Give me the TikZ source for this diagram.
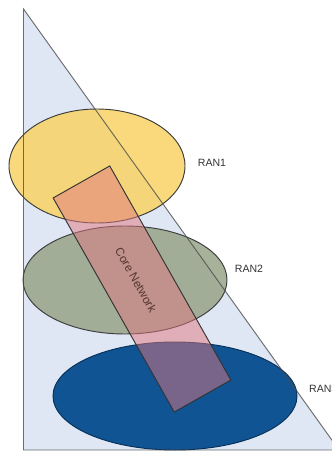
\documentclass[tikz,border=0pt]{standalone}
\usepackage{fontspec}
\setmainfont{Liberation Sans}

\definecolor{areablue}{RGB}{222,231,243}
\definecolor{edgegray}{RGB}{75,75,75}
\definecolor{ranyellow}{RGB}{248,210,100}
\definecolor{rangreen}{RGB}{152,164,137}
\definecolor{ranblue}{RGB}{10,80,145}
\definecolor{corered}{RGB}{225,118,128}
\definecolor{labelgray}{RGB}{50,50,50}
\definecolor{corebrown}{RGB}{85,55,50}

\tikzset{
  ranlabel/.style={font=\fontsize{9}{10}\selectfont, text=labelgray, inner sep=0pt},
  corebox/.style={draw=black!80, thick, fill=corered, fill opacity=0.5,
                  rotate=-60.5, minimum width=7.38cm, minimum height=1.95cm, inner sep=0pt}
}

\begin{document}
\begin{tikzpicture}[x=0.03cm, y=-0.03cm]

    \useasboundingbox (0,0) rectangle (331,452);

    % Area triangle
    \fill[areablue] (23.5,9) -- (23.5,450) -- (339,450) -- cycle;

    % Radio access networks
    \draw[edgegray!80!black, thick, fill=ranyellow, fill opacity=0.85] (97,166) ellipse (88 and 57);
    \draw[edgegray!80!black, thick, fill=rangreen, fill opacity=0.85] (125,280) ellipse (102 and 54);
    \draw[ranblue!60!black, thick, fill=ranblue, fill opacity=0.97] (175,396) ellipse (122 and 54);

    % Triangle outline
    \draw[edgegray, thick, draw opacity=0.8] (23.5,9) -- (23.5,450) -- (339,450) -- cycle;

    % Core network
    \node[corebox] (core) at (142,289) {};
    \node[ranlabel, font=\fontsize{10}{11}\selectfont, rotate=-60.5, text=corebrown]
        (corename) at (136,280) {Core Network};

    % Labels
    \node[ranlabel] (ran1) at (212,163) {RAN1};
    \node[ranlabel] (ran2) at (249,269) {RAN2};
    \node[ranlabel, anchor=west] (ran3) at (309,389) {RAN3};

\end{tikzpicture}
\end{document}
